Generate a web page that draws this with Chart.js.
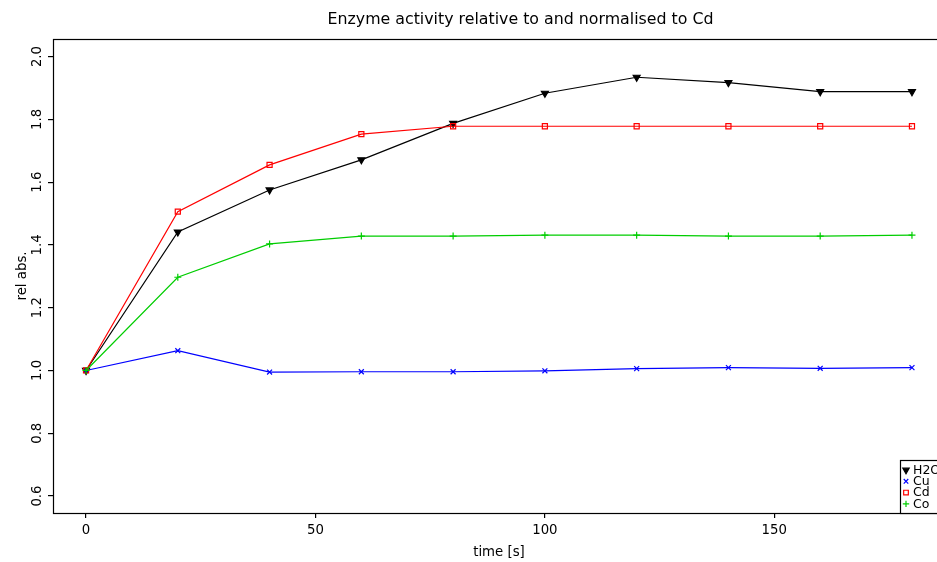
<!DOCTYPE html>
<html><head><meta charset="utf-8">
<script src="https://cdn.jsdelivr.net/npm/chart.js@4.4.1/dist/chart.umd.min.js"></script>
<style>
html,body{margin:0;padding:0;overflow:hidden;background:#fff;width:937px;height:562px}
#wrap{width:1041px;height:562px;position:relative}
canvas{display:block}
</style></head>
<body><div id="wrap"><canvas id="c" width="1041" height="562"></canvas></div>
<script>
const chartTitle = 'Enzyme activity relative to and normalised to Cd';
const xAxisTitle = 'time [s]';
const yAxisTitle = 'rel abs.';
const timeS = [0, 20, 40, 60, 80, 100, 120, 140, 160, 180];
const seriesNames = ['H2O', 'Cu', 'Cd', 'Co'];
const h2o = [1.000, 1.441, 1.575, 1.671, 1.787, 1.883, 1.934, 1.917, 1.888, 1.888];
const cu  = [1.000, 1.063, 0.995, 0.996, 0.996, 0.999, 1.006, 1.009, 1.007, 1.009];
const cd  = [1.000, 1.506, 1.655, 1.753, 1.778, 1.778, 1.778, 1.778, 1.778, 1.778];
const co  = [1.000, 1.297, 1.403, 1.428, 1.428, 1.431, 1.431, 1.428, 1.428, 1.431];
const xTicks = [0, 50, 100, 150];
const yTicks = [0.6, 0.8, 1.0, 1.2, 1.4, 1.6, 1.8, 2.0];
const xRange = [-7.2, 187.2];
const yRange = [0.546, 2.056];

Chart.defaults.font.family = "'DejaVu Sans', sans-serif";
Chart.defaults.color = '#000';

const styles = [
  {color: '#000000', pointStyle: 'triangle', rotation: 180, radius: 4, fill: '#000000'},
  {color: '#0000ff', pointStyle: 'crossRot', rotation: 0, radius: 3.5, fill: '#0000ff'},
  {color: '#ff0000', pointStyle: 'rect', rotation: 0, radius: 3.6, fill: 'rgba(0,0,0,0)'},
  {color: '#00cd00', pointStyle: 'cross', rotation: 0, radius: 3.5, fill: '#00cd00'}
];
const seriesValues = [h2o, cu, cd, co];

const datasets = seriesValues.map((vals, i) => ({
  label: seriesNames[i],
  data: timeS.map((t, j) => ({x: t, y: vals[j]})),
  borderColor: styles[i].color,
  backgroundColor: styles[i].fill,
  borderWidth: 1.2,
  pointStyle: styles[i].pointStyle,
  pointRotation: styles[i].rotation,
  pointRadius: styles[i].radius,
  pointBorderWidth: 1.2,
  pointBorderColor: styles[i].color,
  pointBackgroundColor: styles[i].fill,
  tension: 0,
  order: 4 - i,
  yAxisID: 'y'
}));

const framePlugin = {
  id: 'frameLegend',
  afterDatasetsDraw(chart) {
    const ctx = chart.ctx, a = chart.chartArea;
    ctx.save();
    ctx.strokeStyle = '#000';
    ctx.lineWidth = 1.2;
    ctx.strokeRect(Math.round(a.left) + 0.5, Math.round(a.top) + 0.5,
                   Math.round(a.right - a.left), Math.round(a.bottom - a.top));
    const bw = 45, bh = 53;
    const x0 = Math.round(a.right) - bw, y0 = Math.round(a.bottom) - bh;
    ctx.fillStyle = '#fff';
    ctx.fillRect(x0, y0, bw, bh);
    ctx.strokeRect(x0 + 0.5, y0 + 0.5, bw, bh);
    ctx.font = "12.5px 'DejaVu Sans'";
    ctx.textBaseline = 'middle';
    ctx.textAlign = 'left';
    chart.data.datasets.forEach((ds, i) => {
      const y = y0 + 10 + i * 11.3;
      ctx.fillStyle = styles[i].fill;
      ctx.strokeStyle = styles[i].color;
      ctx.lineWidth = 1.2;
      Chart.helpers.drawPoint(ctx, {pointStyle: styles[i].pointStyle, rotation: styles[i].rotation,
        radius: styles[i].radius - 0.3, borderWidth: 1.2}, x0 + 6, y);
      ctx.fillStyle = '#000';
      ctx.fillText(ds.label, x0 + 13, y + 0.5);
    });
    ctx.restore();
  }
};

new Chart(document.getElementById('c'), {
  type: 'line',
  data: {datasets},
  options: {
    responsive: false,
    animation: false,
    layout: {padding: {left: 0, right: 0, top: 0, bottom: 0}},
    plugins: {
      legend: {display: false},
      tooltip: {enabled: false},
      title: {display: true, text: chartTitle, color: '#000',
        font: {size: 15.8, weight: 'normal'}, padding: {top: 10, bottom: 10}}
    },
    scales: {
      x: {
        type: 'linear', min: xRange[0], max: xRange[1],
        afterBuildTicks: (s) => { s.ticks = xTicks.map(v => ({value: v})); },
        afterFit: (s) => { s.height = 49; },
        border: {display: false},
        grid: {display: true, drawOnChartArea: false, drawTicks: true, tickLength: 5, color: '#000', lineWidth: 1.2},
        ticks: {font: {size: 13.3}, color: '#000', padding: 5, maxRotation: 0, minRotation: 0},
        title: {display: true, text: xAxisTitle, color: '#000', font: {size: 13.3}, padding: {top: 1.5, bottom: 1.5}}
      },
      y: {
        type: 'linear', position: 'left', min: yRange[0], max: yRange[1],
        afterBuildTicks: (s) => { s.ticks = yTicks.map(v => ({value: v})); },
        afterFit: (s) => { s.width = 53; },
        border: {display: false},
        grid: {display: true, drawOnChartArea: false, drawTicks: true, tickLength: 5, color: '#000', lineWidth: 1.2},
        ticks: {font: {size: 13.3}, color: '#000', padding: 0, minRotation: 90, maxRotation: 90,
          crossAlign: 'center', callback: (v) => v.toFixed(1)},
        title: {display: true, text: yAxisTitle, color: '#000', font: {size: 13.3}, padding: {top: 15, bottom: 0}}
      },
      yRightMargin: {
        type: 'linear', position: 'right', min: 0, max: 1, display: true,
        afterFit: (s) => { s.width = 96; },
        border: {display: false},
        grid: {display: false},
        ticks: {display: false}
      }
    }
  },
  plugins: [framePlugin]
});
</script>
</body></html>
